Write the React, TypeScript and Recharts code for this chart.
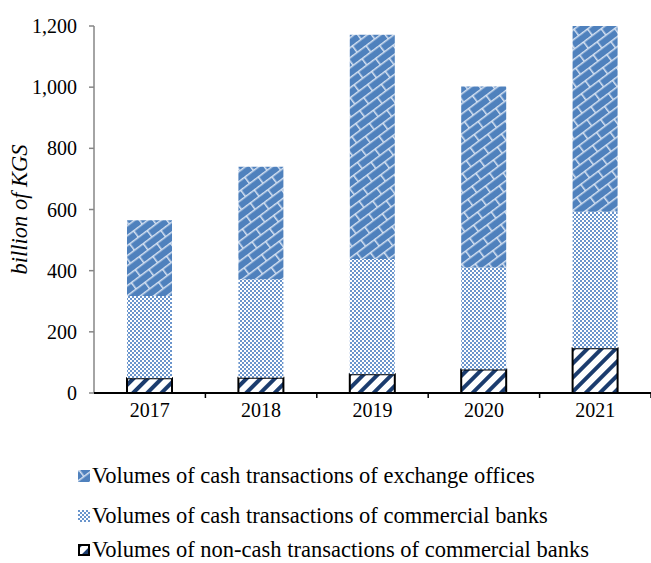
import React from 'react';
import { BarChart, Bar, XAxis, YAxis, Label } from 'recharts';

// values in billion KGS
const years = ['2017', '2018', '2019', '2020', '2021'];
const nonCashBanks = [48, 50, 61, 77, 146];
const cashBanks = [269, 322, 377, 333, 447];
const cashExchange = [248, 368, 733, 592, 607];
const yTicks = [0, 200, 400, 600, 800, 1000, 1200];

const seriesNames = {
  exchange: 'Volumes of cash transactions of exchange offices',
  banks: 'Volumes of cash transactions of commercial banks',
  nonCash: 'Volumes of non-cash transactions of commercial banks'
};

const data = years.map((year, i) => ({
  year,
  nonCash: nonCashBanks[i],
  banks: cashBanks[i],
  exchange: cashExchange[i]
}));

const FONT = '"Liberation Serif", "Times New Roman", serif';
const BLUE = '#4F81BD';
const NAVY = '#1B3C6E';
const LINE = '#d6e2f2';

const Patterns = () => (
  <svg width={0} height={0} style={{ position: 'absolute' }}>
    <defs>
      <pattern id="pExch" width={22} height={16} patternUnits="userSpaceOnUse" patternTransform="rotate(-37)">
        <rect width={22} height={16} fill={BLUE} />
        <line x1={0} y1={0.75} x2={22} y2={0.75} stroke={LINE} strokeWidth={1.5} />
        <line x1={0} y1={8.75} x2={22} y2={8.75} stroke={LINE} strokeWidth={1.5} />
        <line x1={0.75} y1={0} x2={0.75} y2={8} stroke={LINE} strokeWidth={1.5} />
        <line x1={11.75} y1={8} x2={11.75} y2={16} stroke={LINE} strokeWidth={1.5} />
      </pattern>
      <pattern id="pBanks" width={4} height={4} patternUnits="userSpaceOnUse">
        <rect width={4} height={4} fill="#ffffff" />
        <rect x={0} y={0} width={2} height={2} fill="#6a95cc" />
        <rect x={2} y={2} width={2} height={2} fill="#6a95cc" />
      </pattern>
      <pattern id="pNonCash" width={10} height={10} patternUnits="userSpaceOnUse" patternTransform="rotate(45)">
        <rect width={10} height={10} fill="#ffffff" />
        <rect x={0} y={0} width={4} height={10} fill={NAVY} />
      </pattern>
    </defs>
  </svg>
);

const XTick = (props: any) => {
  const { x, y, payload } = props;
  const half = payload.offset || 0;
  return (
    <g>
      <line x1={x + half} y1={y - 8} x2={x + half} y2={y - 3} stroke="#000" strokeWidth={1.5} />
      <text x={x} y={y + 16} textAnchor="middle" fontFamily={FONT} fontSize={20} fill="#000">
        {payload.value}
      </text>
    </g>
  );
};

const legendRows = [
  { key: 'exchange', fill: 'url(#pExch)', stroke: 'none', top: 463 },
  { key: 'banks', fill: 'url(#pBanks)', stroke: 'none', top: 503 },
  { key: 'nonCash', fill: 'url(#pNonCash)', stroke: '#000', top: 537 }
];

export default function App() {
  return (
    <div style={{ position: 'absolute', left: 0, top: 0, width: 651, height: 563, background: '#fff', overflow: 'hidden' }}>
      <Patterns />
      <BarChart
        width={651}
        height={563}
        data={data}
        margin={{ top: 26, right: 0, left: 34, bottom: 140 }}
        barSize={45}
      >
        <YAxis
          width={60}
          domain={[0, 1200]}
          ticks={yTicks}
          interval={0}
          tickFormatter={(v: number) => v.toLocaleString('en-US')}
          tick={{ fontFamily: FONT, fontSize: 20, fill: '#000' }}
          axisLine={{ stroke: '#868686', strokeWidth: 1.5 }}
          tickLine={{ stroke: '#868686', strokeWidth: 1.5 }}
          tickSize={5}
          tickMargin={12}
        >
          <Label
            value="billion of KGS"
            angle={-90}
            position="left"
            offset={15}
            style={{ fontFamily: FONT, fontSize: 22.5, fontStyle: 'italic', fill: '#000', textAnchor: 'middle' }}
          />
        </YAxis>
        <XAxis
          dataKey="year"
          height={30}
          axisLine={{ stroke: '#000', strokeWidth: 2 }}
          tickLine={false}
          tick={<XTick />}
          interval={0}
        />
        <Bar dataKey="nonCash" stackId="a" fill="url(#pNonCash)" stroke="#000" strokeWidth={2} isAnimationActive={false} />
        <Bar dataKey="banks" stackId="a" fill="url(#pBanks)" isAnimationActive={false} />
        <Bar dataKey="exchange" stackId="a" fill="url(#pExch)" isAnimationActive={false} />
      </BarChart>
      {legendRows.map(row => (
        <div
          key={row.key}
          style={{ position: 'absolute', left: 78, top: row.top, display: 'flex', alignItems: 'center', fontFamily: FONT, fontSize: 22.5, color: '#000', whiteSpace: 'nowrap' }}
        >
          <svg width={12} height={12} style={{ marginRight: 2 }}>
            <rect
              x={row.stroke === 'none' ? 0 : 1}
              y={row.stroke === 'none' ? 0 : 1}
              width={row.stroke === 'none' ? 12 : 10}
              height={row.stroke === 'none' ? 12 : 10}
              fill={row.fill}
              stroke={row.stroke}
              strokeWidth={2}
            />
          </svg>
          <span>{seriesNames[row.key as keyof typeof seriesNames]}</span>
        </div>
      ))}
    </div>
  );
}
